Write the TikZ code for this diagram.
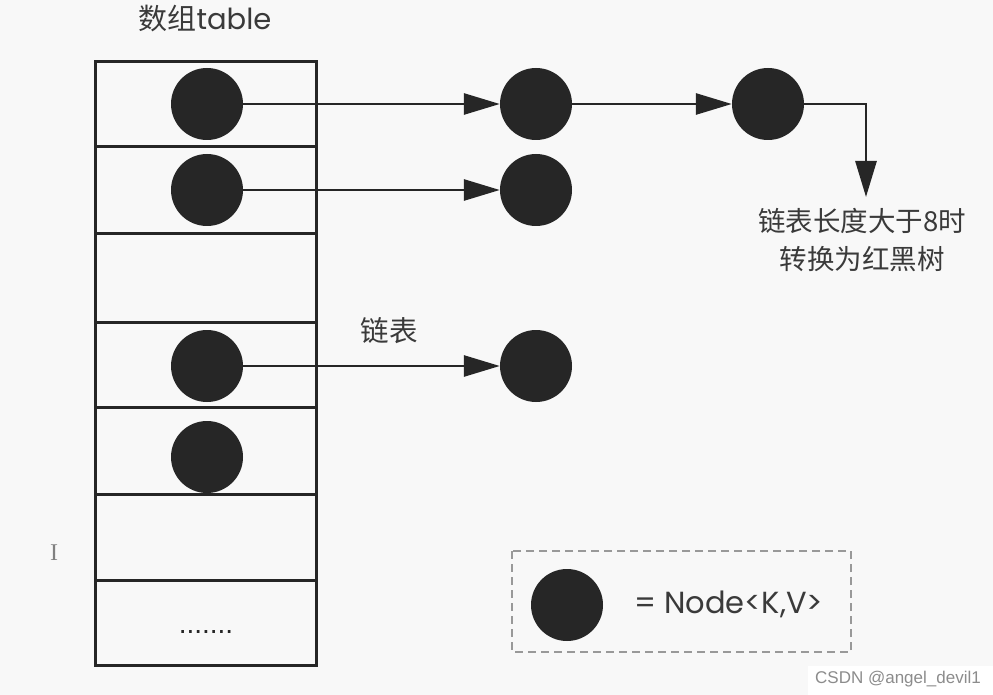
\documentclass[tikz,border=0pt]{standalone}
\usepackage{fontspec}
\setmainfont{Poppins}
\newfontfamily\cjk{Noto Sans CJK SC}
\newfontfamily\wmfont{Liberation Sans}
\newfontfamily\serfont{Liberation Serif}
\usetikzlibrary{arrows.meta}
\definecolor{bgc}{HTML}{F8F8F8}
\definecolor{ink}{HTML}{262626}
\definecolor{txt}{HTML}{3A3A3A}
\begin{document}
\begin{tikzpicture}[x=1pt,y=-1pt,
  cellbox/.style={draw=ink,line width=3pt},
  dot/.style={circle,fill=ink,draw=none,minimum size=72pt,inner sep=0pt},
  arr/.style={draw=ink,line width=2.8pt,-{Triangle[length=36pt,width=21pt]}},
  lbl/.style={text=txt,inner sep=0pt,font=\fontsize{27.5}{30}\selectfont\cjk}
]
\fill[bgc] (0,0) rectangle (993,695);
\useasboundingbox (0,0) rectangle (993,695);

% table cells
\foreach \a/\b in {62/147,147/233,233/322,322/407,407/494,494/580,580/665}
  \draw[cellbox] (95,\a) rectangle (316,\b);

% nodes in table
\node[dot] (n1) at (207,104) {};
\node[dot] (n2) at (207,190) {};
\node[dot] (n4) at (207,366) {};
\node[dot] (n5) at (207,457) {};

% chain nodes
\node[dot] (c1) at (536,104) {};
\node[dot] (c2) at (768,104) {};
\node[dot] (c3) at (536,190) {};
\node[dot] (c4) at (536,366) {};
\coordinate (t) at (866,197);

\draw[arr] (n1) -- (c1);
\draw[arr] (c1) -- (c2);
\draw[arr] (c2.east) -| (t);
\draw[arr] (n2) -- (c3);
\draw[arr] (n4) -- (c4);

% labels
\node[lbl,anchor=base,font=\fontsize{29}{30}\selectfont\cjk] (title) at (205,30) {数组\fontspec{Poppins}table};
\node[lbl,anchor=base,font=\fontsize{28.5}{30}\selectfont\cjk] (ll) at (389,341) {链表};
\node[lbl,anchor=base] (rb1) at (862,232) {链表长度大于8时};
\node[lbl,anchor=base] (rb2) at (862,269) {转换为红黑树};
\node[text=ink,inner sep=0pt,font=\wmfont\fontsize{28}{30}\selectfont] (dots) at (206,632) {.......};

% legend
\draw[draw=gray!80,line width=2pt,dash pattern=on 8pt off 5pt] (512,551) rectangle (851,652);
\node[dot] (lg) at (567,605) {};
\node[text=txt,inner sep=0pt,anchor=west,font=\fontsize{30.5}{32}\selectfont] (lgt) at (634,604) {= Node<K,V>};

% cursor and watermark
\node[text=gray,inner sep=0pt,font=\serfont\fontsize{24}{26}\selectfont] (cur) at (54,553) {I};
\fill[white] (808,666) rectangle (993,695);
\node[text=gray!90,inner sep=0pt,anchor=west,font=\wmfont\fontsize{17}{20}\selectfont] (wm) at (815,679) {CSDN @angel\_devil1};
\end{tikzpicture}
\end{document}
